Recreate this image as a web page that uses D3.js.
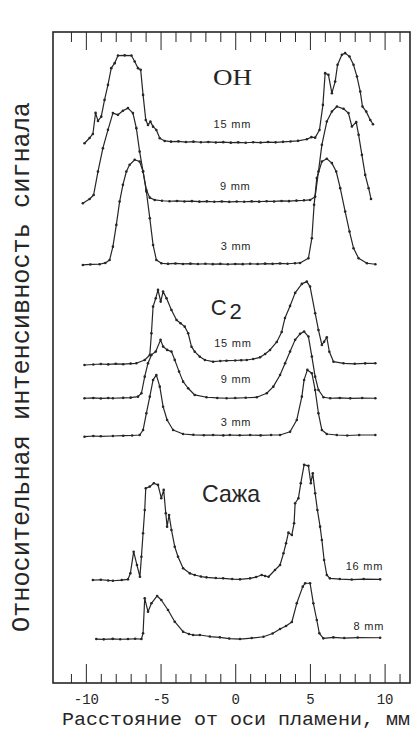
<!DOCTYPE html>
<html>
<head>
<meta charset="utf-8">
<script src="https://cdn.jsdelivr.net/npm/d3@7"></script>
<style>
  html, body { margin: 0; padding: 0; background: #fff; }
  svg { display: block; }
</style>
</head>
<body>
<svg id="chart" width="412" height="730"></svg>
<script>
// ---- axis ticks (distance from flame axis, mm) ----
const xMajorTicks = [-10, -5, 0, 5, 10];
const xMinorTicks = [-11, -9, -8, -7, -6, -4, -3, -2, -1, 1, 2, 3, 4, 6, 7, 8, 9, 11];
const xTickLabels = ["-10", "-5", "0", "5", "10"];

// ---- radial profiles: [distance mm, relative intensity above own baseline] ----
const OH_15 = [[-10.09,-0.16],[-9.75,0.37],[-9.53,0.77],[-9.35,2.87],[-9.19,2.07],[-8.97,2.5],[-8.75,4.17],[-8.52,5.67],[-8.30,7.34],[-8.07,7.84],[-7.85,8.6],[-7.4,8.62],[-6.95,8.6],[-6.73,8.0],[-6.51,7.34],[-6.33,7.17],[-6.17,4.67],[-5.99,2.17],[-5.84,1.67],[-5.68,2.0],[-5.50,1.5],[-5.28,1.17],[-5.05,0.34],[-4.72,0.07],[-4.3,0.0],[-3.8,0.03],[-3.3,-0.04],[-2.8,0.0],[-2.3,-0.06],[-1.8,-0.03],[-1.3,-0.08],[-0.8,-0.05],[-0.3,-0.1],[0.2,-0.07],[0.7,-0.11],[1.2,-0.06],[1.7,-0.09],[2.2,-0.04],[2.7,-0.07],[3.2,-0.02],[3.7,0.02],[4.2,0.08],[4.79,0.24],[5.1,0.45],[5.35,0.4],[5.64,1.17],[5.87,3.67],[6.02,6.84],[6.24,6.67],[6.47,4.84],[6.69,6.0],[6.85,7.67],[7.14,8.67],[7.36,8.84],[7.65,8.5],[7.92,7.67],[8.15,6.5],[8.37,5.0],[8.52,3.5],[8.77,3.0],[9.04,2.17],[9.22,1.74]];
const OH_9 = [[-10.20,-0.23],[-9.75,0.2],[-9.48,0.6],[-9.19,2.93],[-8.86,5.27],[-8.52,7.1],[-8.19,8.77],[-7.85,8.6],[-7.52,9.0],[-7.18,9.27],[-6.85,8.77],[-6.62,7.27],[-6.40,4.93],[-6.17,2.93],[-5.95,1.1],[-5.72,0.33],[-5.39,0.1],[-4.9,0.02],[-4.4,-0.03],[-3.9,0.0],[-3.4,-0.05],[-2.9,-0.02],[-2.4,-0.07],[-1.9,-0.04],[-1.4,-0.08],[-0.9,-0.05],[-0.4,-0.09],[0.1,-0.06],[0.6,-0.08],[1.1,-0.04],[1.6,-0.07],[2.1,-0.03],[2.6,-0.05],[3.1,0.0],[3.6,-0.02],[4.1,0.03],[4.6,0.06],[5.01,0.1],[5.35,0.43],[5.57,2.93],[5.80,5.6],[6.13,7.93],[6.47,8.93],[6.81,9.43],[7.25,9.2],[7.58,8.77],[7.81,7.43],[8.10,7.87],[8.26,6.6],[8.48,4.6],[8.70,2.6],[8.93,1.27],[9.09,0.2]];
const OH_3 = [[-10.20,-0.15],[-9.7,-0.1],[-9.08,-0.08],[-8.7,0.05],[-8.41,0.35],[-8.19,1.68],[-7.96,3.85],[-7.74,6.18],[-7.52,7.85],[-7.29,9.18],[-7.07,9.85],[-6.73,10.35],[-6.40,10.18],[-6.17,9.18],[-5.95,7.18],[-5.72,4.52],[-5.50,1.85],[-5.28,0.35],[-4.94,0.02],[-4.5,-0.04],[-4.0,0.0],[-3.5,-0.05],[-3.0,-0.02],[-2.5,-0.06],[-2.0,-0.03],[-1.5,-0.07],[-1.0,-0.04],[-0.5,-0.08],[0.0,-0.05],[0.5,-0.07],[1.0,-0.03],[1.5,-0.06],[2.0,-0.02],[2.5,-0.04],[3.0,0.0],[3.5,-0.03],[4.0,0.02],[4.34,0.05],[4.90,0.52],[5.13,2.52],[5.28,5.85],[5.46,8.52],[5.80,10.18],[6.13,10.45],[6.47,10.02],[6.76,9.18],[7.03,7.52],[7.36,5.18],[7.65,3.18],[7.92,1.52],[8.26,0.52],[8.82,0.02],[9.38,-0.08]];

const C2_15 = [[-10.09,-0.1],[-9.5,-0.05],[-9.0,0.0],[-8.5,-0.04],[-8.0,0.02],[-7.5,-0.02],[-7.0,0.04],[-6.62,0.07],[-6.06,0.4],[-5.72,0.9],[-5.61,3.07],[-5.50,5.73],[-5.32,6.57],[-5.17,7.4],[-4.99,6.23],[-4.83,7.23],[-4.60,6.57],[-4.27,5.4],[-3.93,4.4],[-3.66,4.07],[-3.38,3.73],[-3.15,3.07],[-2.93,1.73],[-2.71,1.23],[-2.37,0.73],[-2.03,0.4],[-1.48,0.23],[-1.0,0.3],[-0.58,0.33],[0.0,0.35],[0.4,0.38],[0.77,0.4],[1.2,0.5],[1.66,0.67],[2.0,1.0],[2.33,1.4],[2.78,2.2],[3.11,3.2],[3.33,4.6],[3.67,5.8],[4.01,7.1],[4.46,8.0],[4.79,8.23],[5.01,7.73],[5.35,5.07],[5.57,3.4],[5.80,1.9],[5.95,2.23],[6.13,2.67],[6.30,1.23],[6.58,0.23],[7.25,0.07],[8.0,0.02],[8.7,0.06],[9.38,0.07]];
const C2_9 = [[-10.09,0],[-9.5,0.03],[-9.0,-0.02],[-8.5,0.02],[-8.19,0],[-7.5,0.04],[-7.0,0.06],[-6.51,0.16],[-6.28,0.5],[-6.06,2.16],[-5.84,3.5],[-5.61,4.33],[-5.32,4.66],[-5.00,5.83],[-4.83,5.16],[-4.56,4.83],[-4.27,4.66],[-4.05,3.83],[-3.76,2.66],[-3.49,1.66],[-3.15,1.0],[-2.71,0.33],[-1.92,0.1],[-1.2,0.03],[-0.58,0],[0.0,0.02],[0.7,0.05],[1.44,0.1],[2.11,0.5],[2.55,1.16],[3.00,2.33],[3.34,3.5],[3.67,4.66],[4.01,5.83],[4.34,6.43],[4.61,6.66],[4.90,6.16],[5.13,4.16],[5.35,2.16],[5.57,0.83],[5.91,0.1],[6.36,0],[7.0,0.03],[7.7,-0.01],[8.5,0.02],[9.38,0]];
const C2_3 = [[-10.09,-0.07],[-9.5,0.0],[-9.0,-0.03],[-8.19,0],[-7.5,0.03],[-6.9,0.05],[-6.40,0.1],[-6.17,0.6],[-5.95,2.27],[-5.72,3.93],[-5.50,5.6],[-5.28,6.1],[-5.05,4.93],[-4.83,2.93],[-4.56,1.6],[-4.16,0.6],[-3.49,0.2],[-2.8,0.12],[-2.1,0.08],[-1.48,0.1],[-0.8,0.06],[-0.36,0.1],[0.3,0.07],[1.0,0.1],[1.7,0.06],[2.4,0.1],[3.00,0.1],[3.67,0.43],[4.12,1.6],[4.46,3.93],[4.61,5.6],[4.83,6.6],[5.13,6.27],[5.35,4.6],[5.57,2.27],[5.80,0.6],[6.13,0.2],[6.8,0.1],[7.5,0.05],[8.3,0.1],[9.38,0.1]];

const SOOT_16 = [[-9.53,0],[-9.0,0.03],[-8.5,-0.04],[-8.19,-0.07],[-7.6,0.0],[-7.18,0.07],[-7.02,0.67],[-6.80,2.83],[-6.58,1.5],[-6.38,0.33],[-6.28,2.33],[-6.17,4.67],[-6.06,7.0],[-5.99,9.17],[-5.72,9.33],[-5.45,9.67],[-5.17,9.5],[-4.95,8.17],[-4.79,9.0],[-4.65,6.67],[-4.56,5.33],[-4.43,6.5],[-4.27,5.0],[-4.05,3.33],[-3.83,2.33],[-3.49,1.17],[-3.04,0.67],[-2.71,0.5],[-2.3,0.35],[-1.92,0.27],[-1.3,0.2],[-0.81,0.17],[-0.2,0.1],[0.32,0.07],[0.99,0.17],[1.4,0.3],[1.77,0.5],[2.0,0.4],[2.23,0.33],[2.66,1.0],[3.00,1.5],[3.23,2.67],[3.40,3.67],[3.56,4.73],[3.79,4.5],[3.94,5.67],[4.01,7.67],[4.23,8.17],[4.39,9.67],[4.61,11.5],[4.90,11.4],[5.06,9.67],[5.19,10.67],[5.35,8.67],[5.50,7.0],[5.68,5.33],[5.80,4.0],[5.95,2.0],[6.13,0.5],[6.34,0.17],[7.0,0.1],[7.8,0.05],[8.6,0.1],[9.70,0.07]];
const SOOT_8 = [[-9.30,0],[-8.8,-0.03],[-8.2,0.02],[-7.7,-0.02],[-7.18,0],[-6.7,0.03],[-6.28,0],[-6.17,0.57],[-6.06,4.07],[-5.84,2.73],[-5.61,3.57],[-5.23,4.3],[-4.95,3.9],[-4.50,2.9],[-4.05,1.73],[-3.49,0.73],[-3.1,0.5],[-2.82,0.4],[-2.37,0.4],[-1.7,0.25],[-1.03,0.17],[-0.4,0.05],[0.32,0],[1.1,0.1],[1.89,0.23],[2.5,0.55],[3.00,1.0],[3.4,1.3],[3.79,1.7],[4.12,3.57],[4.52,5.23],[4.68,5.57],[5.01,5.57],[5.23,3.57],[5.46,1.9],[5.63,0.57],[5.90,0.07],[6.57,0.17],[7.3,0.1],[8.2,0.15],[9.70,0.13]];

// vertical offset of each trace's baseline (same intensity units)
const traceData    = [OH_15, OH_9, OH_3, C2_15, C2_9, C2_3, SOOT_16, SOOT_8];
const traceOffsets = [54.05, 48.13, 41.89, 31.85, 28.43, 24.66, 10.28, 4.39];
const traceLabels  = ["15 mm", "9 mm", "3 mm", "15 mm", "9 mm", "3 mm", "16 mm", "8 mm"];

// label anchor for each trace: [x in mm, height above baseline]
const traceLabelPos = [[-0.19,1.37],[0.0,1.1],[0.05,1.35],[-0.15,1.7],[0.05,1.53],[0.05,1.0],[8.65,1.0],[8.95,0.9]];

// species titles
const groupTitles   = ["OH", "C", "Сажа"];
const groupTitlePos = [[-0.19, 59.71], [-0.6, 36.75], [-0.28, 18.07]];

// ---- layout ----
const frame = { left: 53, right: 410, top: 32, bottom: 683 };
const svg = d3.select("#chart");

const x = d3.scaleLinear().domain([-12.2, 11.7]).range([frame.left, frame.right]);
const y = d3.scaleLinear().domain([0, 65]).range([frame.bottom, frame.top]);

const ink = "#262626";
const mono = "'Liberation Mono', 'DejaVu Sans Mono', monospace";
const serif = "'Liberation Serif', 'DejaVu Serif', serif";
const sans = "'Liberation Sans', Arial, sans-serif";

// frame
svg.append("rect")
  .attr("x", frame.left).attr("y", frame.top)
  .attr("width", frame.right - frame.left).attr("height", frame.bottom - frame.top)
  .attr("fill", "none").attr("stroke", ink).attr("stroke-width", 1.6);

// bottom axis: inward ticks, labels below
const bottomMajor = svg.append("g")
  .attr("transform", `translate(0,${frame.bottom})`)
  .call(d3.axisBottom(x).tickValues(xMajorTicks)
        .tickFormat((d, i) => xTickLabels[i])
        .tickSize(-19).tickSizeOuter(0).tickPadding(11));
const bottomMinor = svg.append("g")
  .attr("transform", `translate(0,${frame.bottom})`)
  .call(d3.axisBottom(x).tickValues(xMinorTicks).tickFormat("")
        .tickSize(-9).tickSizeOuter(0));

// top axis: inward ticks, no labels
const topMajor = svg.append("g")
  .attr("transform", `translate(0,${frame.top})`)
  .call(d3.axisTop(x).tickValues(xMajorTicks).tickFormat("")
        .tickSize(-18).tickSizeOuter(0));
const topMinor = svg.append("g")
  .attr("transform", `translate(0,${frame.top})`)
  .call(d3.axisTop(x).tickValues(xMinorTicks).tickFormat("")
        .tickSize(-10).tickSizeOuter(0));

[bottomMajor, bottomMinor, topMajor, topMinor].forEach(g => {
  g.select(".domain").remove();
  g.selectAll(".tick line").attr("stroke", ink).attr("stroke-width", 1);
});
bottomMajor.selectAll(".tick text")
  .attr("font-family", mono).attr("font-size", 14).attr("fill", ink);

// axis titles
svg.append("text")
  .attr("x", 62).attr("y", 725)
  .attr("font-family", mono).attr("font-size", 19).attr("fill", ink)
  .attr("textLength", 348).attr("lengthAdjust", "spacingAndGlyphs")
  .text("Расстояние от оси пламени, мм");

svg.append("text")
  .attr("transform", "translate(29,367) rotate(-90)")
  .attr("text-anchor", "middle")
  .attr("font-family", mono).attr("font-size", 26).attr("fill", ink)
  .attr("textLength", 530).attr("lengthAdjust", "spacingAndGlyphs")
  .text("Относительная  интенсивность  сигнала");

// traces
const line = d3.line()
  .x(d => x(d[0]))
  .y(d => y(d[1] + d.offset));

traceData.forEach((data, i) => {
  const off = traceOffsets[i];
  const pts = data.map(d => { const p = [d[0], d[1]]; p.offset = off; return p; });
  const g = svg.append("g");
  g.append("path")
    .datum(pts)
    .attr("d", line)
    .attr("fill", "none")
    .attr("stroke", ink)
    .attr("stroke-width", 1.2)
    .attr("stroke-linejoin", "round");
  g.selectAll("circle")
    .data(pts)
    .join("circle")
    .attr("cx", d => x(d[0]))
    .attr("cy", d => y(d[1] + off))
    .attr("r", 1.3)
    .attr("fill", ink);

  const [lx, ly] = traceLabelPos[i];
  svg.append("text")
    .attr("x", x(lx)).attr("y", y(off + ly))
    .attr("text-anchor", "middle")
    .attr("font-family", sans).attr("font-size", 11).attr("fill", ink)
    .attr("letter-spacing", 0.8)
    .text(traceLabels[i]);
});

// species titles
svg.append("text")
  .attr("x", x(groupTitlePos[0][0])).attr("y", y(groupTitlePos[0][1]))
  .attr("text-anchor", "middle")
  .attr("font-family", serif).attr("font-size", 23).attr("fill", ink)
  .attr("textLength", 39).attr("lengthAdjust", "spacingAndGlyphs")
  .text(groupTitles[0]);

const c2 = svg.append("text")
  .attr("x", x(groupTitlePos[1][0])).attr("y", y(groupTitlePos[1][1]))
  .attr("text-anchor", "middle")
  .attr("font-family", sans).attr("font-size", 22).attr("fill", ink);
c2.append("tspan").text(groupTitles[1]);
c2.append("tspan").attr("dx", 3).attr("dy", 4).text("2");

svg.append("text")
  .attr("x", x(groupTitlePos[2][0])).attr("y", y(groupTitlePos[2][1]))
  .attr("text-anchor", "middle")
  .attr("font-family", sans).attr("font-size", 24).attr("fill", ink)
  .attr("textLength", 58).attr("lengthAdjust", "spacingAndGlyphs")
  .text(groupTitles[2]);
</script>
</body>
</html>
